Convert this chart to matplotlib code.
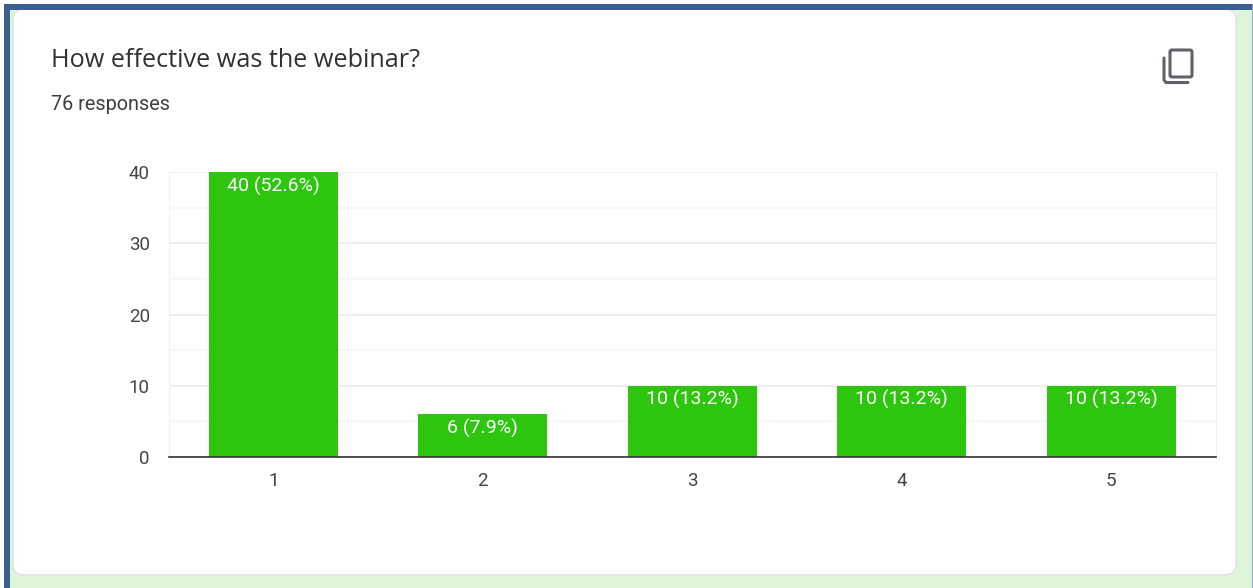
import matplotlib
matplotlib.use("Agg")
import matplotlib.pyplot as plt
from matplotlib.patches import FancyBboxPatch, Rectangle

categories = ["1", "2", "3", "4", "5"]
counts = [40, 6, 10, 10, 10]
bar_labels = ["40 (52.6%)", "6 (7.9%)", "10 (13.2%)", "10 (13.2%)", "10 (13.2%)"]
y_ticks = [0, 10, 20, 30, 40]
y_minor = [5, 15, 25, 35]
title = "How effective was the webinar?"
subtitle = "76 responses"

W, H = 1253, 588
plt.rcParams["font.family"] = ["Roboto", "DejaVu Sans"]
fig = plt.figure(figsize=(W / 100, H / 100), dpi=100, facecolor="#dff5d9")

# page chrome in pixel coordinates
bg = fig.add_axes([0, 0, 1, 1], zorder=0)
bg.set_xlim(0, W)
bg.set_ylim(H, 0)
bg.axis("off")
bg.add_patch(FancyBboxPatch((13, 9), 1223, 566, boxstyle="round,pad=0,rounding_size=11",
                            fc="white", ec="#e2e4e4", lw=1.2))
bg.add_patch(Rectangle((0, 0), W, 4, fc="white", ec="none"))
bg.add_patch(Rectangle((0, 0), 4, H, fc="white", ec="none"))
bg.add_patch(Rectangle((4, 4), W - 4, 5.5, fc="#3a6090", ec="none"))
bg.add_patch(Rectangle((4, 4), 6, H - 4, fc="#3a6090", ec="none"))
bg.add_patch(Rectangle((1251.5, 4), 1.5, H - 4, fc="#8fa9c4", ec="none"))
bg.text(51, 60.5, title, fontsize=18.2, color="#303134", family=["Open Sans", "DejaVu Sans"], va="center", ha="left")
bg.text(51, 104, subtitle, fontsize=14.3, color="#3c4043", va="center", ha="left")
# copy icon
bg.add_patch(FancyBboxPatch((1170, 50), 22, 27, boxstyle="round,pad=0,rounding_size=2", fc="none", ec="#5f6368", lw=2.2))
bg.plot([1164, 1164, 1166, 1188], [58, 80, 82.5, 82.5], color="#5f6368", lw=2.2, solid_capstyle="round")

# chart
ax = fig.add_axes([168.5 / W, 1 - 457 / H, (1216 - 168.5) / W, (457 - 172) / H], zorder=1)
ax.patch.set_alpha(0)
x = range(1, len(categories) + 1)
ax.set_xlim(0.5, 5.5)
ax.set_ylim(0, 40)
ax.bar(x, counts, width=0.615, color="#2ec50f", zorder=3)
for i, c, lab in zip(x, counts, bar_labels):
    ax.annotate(lab, (i, c), xytext=(0, -14), textcoords="offset pixels", ha="center", va="center",
                color="white", fontsize=14, zorder=4)
ax.set_xticks(list(x), categories)
ax.set_yticks(y_ticks)
ax.set_yticks(y_minor, minor=True)
ax.grid(True, axis="y", which="major", color="#ebebeb", lw=1.2, zorder=1)
ax.grid(True, axis="y", which="minor", color="#f6f6f6", lw=1.2, zorder=1)
ax.tick_params(which="both", length=0)
ax.tick_params(axis="x", pad=10.5, labelsize=13.5, labelcolor="#444444")
ax.tick_params(axis="y", pad=13.5, labelsize=13.5, labelcolor="#444444")
for s in ["top", "left", "right"]:
    ax.spines[s].set_color("#f0f0f0")
ax.spines["bottom"].set_color("#333333")
ax.spines["bottom"].set_linewidth(1.2)
ax.spines["bottom"].set_zorder(5)

fig.savefig("out.png", dpi=100, facecolor=fig.get_facecolor())
